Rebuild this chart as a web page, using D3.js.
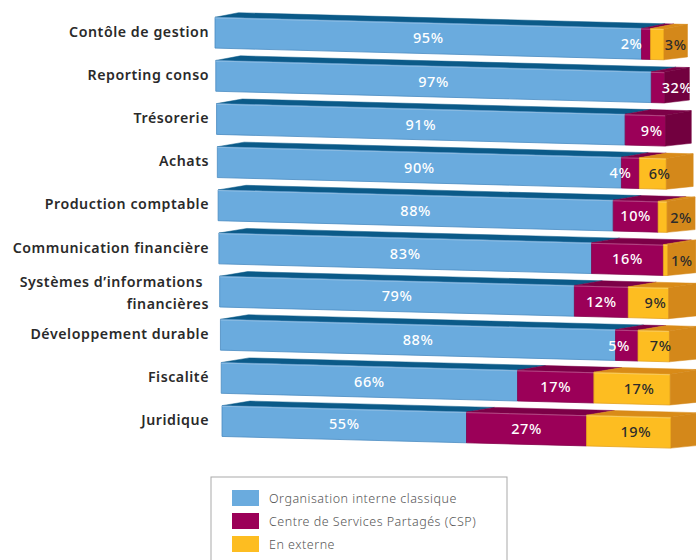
<!DOCTYPE html>
<html>
<head>
<meta charset="utf-8">
<script src="https://cdn.jsdelivr.net/npm/d3@7"></script>
<style>
  html, body { margin: 0; padding: 0; background: #fff; }
  svg { display: block; }
</style>
</head>
<body>
<div id="chart"></div>
<script>
// Répartition des activités financières par mode d'organisation (en %)
const categories = [
  "Contôle de gestion",
  "Reporting conso",
  "Trésorerie",
  "Achats",
  "Production comptable",
  "Communication financière",
  "Systèmes d’informations financières",
  "Développement durable",
  "Fiscalité",
  "Juridique"
];
const interne = [95, 97, 91, 90, 88, 83, 79, 88, 66, 55];
const csp     = [2, 3, 9, 4, 10, 16, 12, 5, 17, 27];
const externe = [3, 0, 0, 6, 2, 1, 9, 7, 17, 19];
// Printed label for the CSP share where the source text differs from the value
const cspPrinted = [null, "32%", null, null, null, null, null, null, null, null];
const seriesNames = [
  "Organisation interne classique",
  "Centre de Services Partagés (CSP)",
  "En externe"
];

const W = 696, H = 560;
const svg = d3.select("#chart").append("svg")
  .attr("width", W).attr("height", H);

// Face colours for each series: front, top, side
const palette = [
  { front: "#6aabde", top: "#0b5a88", side: "#0b5a88", text: "#ffffff", edge: "#4a8cc2" },
  { front: "#9b0058", top: "#7c0047", side: "#72003f", text: "#ffffff", edge: "#85004b" },
  { front: "#fdbd21", top: "#d98b18", side: "#d4881a", text: "#2b2b2b", edge: "#e4a21c" }
];

// Oblique projection of the slanted bars
const barStep = 43.15, barH = 30.8, firstTop = 17.3;
const band = d3.scaleBand()
  .domain(d3.range(categories.length))
  .range([firstTop, firstTop + barStep * (categories.length - 1) + barH])
  .paddingInner((barStep - barH) / barStep).paddingOuter(0).align(0);
const barLeft = d3.scaleLinear().domain([0, categories.length - 1]).range([215, 222]);
const frontWidth = 449;
const slope = 0.026;           // downward drift of the bar across its length
const depthTopY = -4.6, depthBotY = -2.8;
const depthX = d3.scaleLinear().domain([0, 4, 9]).range([23.5, 28, 28]);

const rows = categories.map((c, i) => ({
  name: c, i, values: [interne[i], csp[i], externe[i]]
}));

const gBars = svg.append("g");

rows.forEach(row => {
  const i = row.i;
  const L = barLeft(i);
  const T = band(i);
  const h = band.bandwidth();
  const dx = depthX(i);
  const total = d3.sum(row.values);
  const x = d3.scaleLinear().domain([0, total]).range([0, frontWidth]);
  const pt = (u, v) => [L + u, T + slope * u + v];

  // stacked segments
  let acc = 0;
  const segs = row.values.map((v, k) => {
    const s = { k, v, u0: x(acc), u1: x(acc + v) };
    acc += v;
    return s;
  }).filter(s => s.v > 0);
  const last = segs[segs.length - 1];

  const g = gBars.append("g");
  const line = d3.line();

  // top faces
  segs.forEach(s => {
    const a = pt(s.u0, 0), b = pt(s.u1, 0);
    g.append("path")
      .attr("d", line([a, b, [b[0] + dx, b[1] + depthTopY], [a[0] + dx, a[1] + depthTopY]]) + "Z")
      .attr("fill", palette[s.k].top)
      .attr("stroke", palette[s.k].top).attr("stroke-width", 0.5);
  });
  // front faces
  segs.forEach(s => {
    g.append("path")
      .attr("d", line([pt(s.u0, 0), pt(s.u1, 0), pt(s.u1, h), pt(s.u0, h)]) + "Z")
      .attr("fill", palette[s.k].front)
      .attr("stroke", palette[s.k].edge).attr("stroke-width", 0.8);
  });
  // thin highlight along the front top edge
  g.append("path")
    .attr("d", line([pt(0, 0.6), pt(frontWidth, 0.6)]))
    .attr("stroke", "#ffffff").attr("stroke-opacity", 0.35).attr("stroke-width", 0.8);
  // side face at the right end
  {
    const a = pt(last.u1, 0), b = pt(last.u1, h);
    g.append("path")
      .attr("d", line([a, [a[0] + dx, a[1] + depthTopY], [b[0] + dx, b[1] + depthBotY], b]) + "Z")
      .attr("fill", palette[last.k].side)
      .attr("stroke", palette[last.k].side).attr("stroke-width", 0.5);
  }

  // value labels
  segs.forEach(s => {
    const txt = (s.k === 1 && cspPrinted[i]) ? cspPrinted[i] : s.v + "%";
    const isLast = s === last;
    let cx, anchor = "middle";
    if (isLast && s.v <= 3) {
      cx = L + s.u1 + dx / 2;                    // on the side face
    } else if (isLast) {
      cx = L + (s.u0 + s.u1 + dx / 2) / 2;
    } else if (s.v < 6) {
      cx = L + s.u1 - 8; anchor = "end";         // tucked left of a narrow slice
    } else {
      cx = L + (s.u0 + s.u1) / 2;
    }
    const cy = T + slope * (cx - L) + h / 2;
    g.append("text")
      .attr("x", cx).attr("y", cy)
      .attr("dy", "0.36em")
      .attr("text-anchor", anchor)
      .attr("font-family", "'Noto Sans', sans-serif")
      .attr("font-weight", 500)
      .attr("font-size", 14.5)
      .attr("letter-spacing", 0.6)
      .attr("fill", palette[s.k].text)
      .text(txt);
  });
});

// category labels
const gLab = svg.append("g")
  .attr("font-family", "'Noto Sans', sans-serif")
  .attr("font-weight", 600)
  .attr("font-size", 14.2)
  .attr("letter-spacing", 0.55)
  .attr("fill", "#2a2a2a");
rows.forEach(row => {
  const T = band(row.i);
  const parts = row.name === "Systèmes d’informations financières"
    ? ["Systèmes d’informations", "financières"] : [row.name];
  if (parts.length === 1) {
    gLab.append("text").attr("x", 209).attr("y", T + 19.5)
      .attr("text-anchor", "end").text(parts[0]);
  } else {
    gLab.append("text").attr("x", 203).attr("y", T + 11)
      .attr("text-anchor", "end").text(parts[0]);
    gLab.append("text").attr("x", 209).attr("y", T + 33)
      .attr("text-anchor", "end").text(parts[1]);
  }
});

// legend
const leg = svg.append("g");
leg.append("rect")
  .attr("x", 211).attr("y", 477).attr("width", 296).attr("height", 100)
  .attr("fill", "#fff").attr("stroke", "#a9a9a9").attr("stroke-width", 1);
const legY = d3.scalePoint().domain(d3.range(seriesNames.length)).range([490, 536]);
seriesNames.forEach((name, k) => {
  leg.append("rect")
    .attr("x", 232).attr("y", legY(k)).attr("width", 27).attr("height", 16)
    .attr("fill", palette[k].front);
  leg.append("text")
    .attr("x", 269).attr("y", legY(k) + 8).attr("dy", "0.36em")
    .attr("font-family", "'Noto Sans', sans-serif")
    .attr("font-weight", 300)
    .attr("font-size", 12.5)
    .attr("letter-spacing", 0.5)
    .attr("fill", "#555")
    .text(name);
});
</script>
</body>
</html>
